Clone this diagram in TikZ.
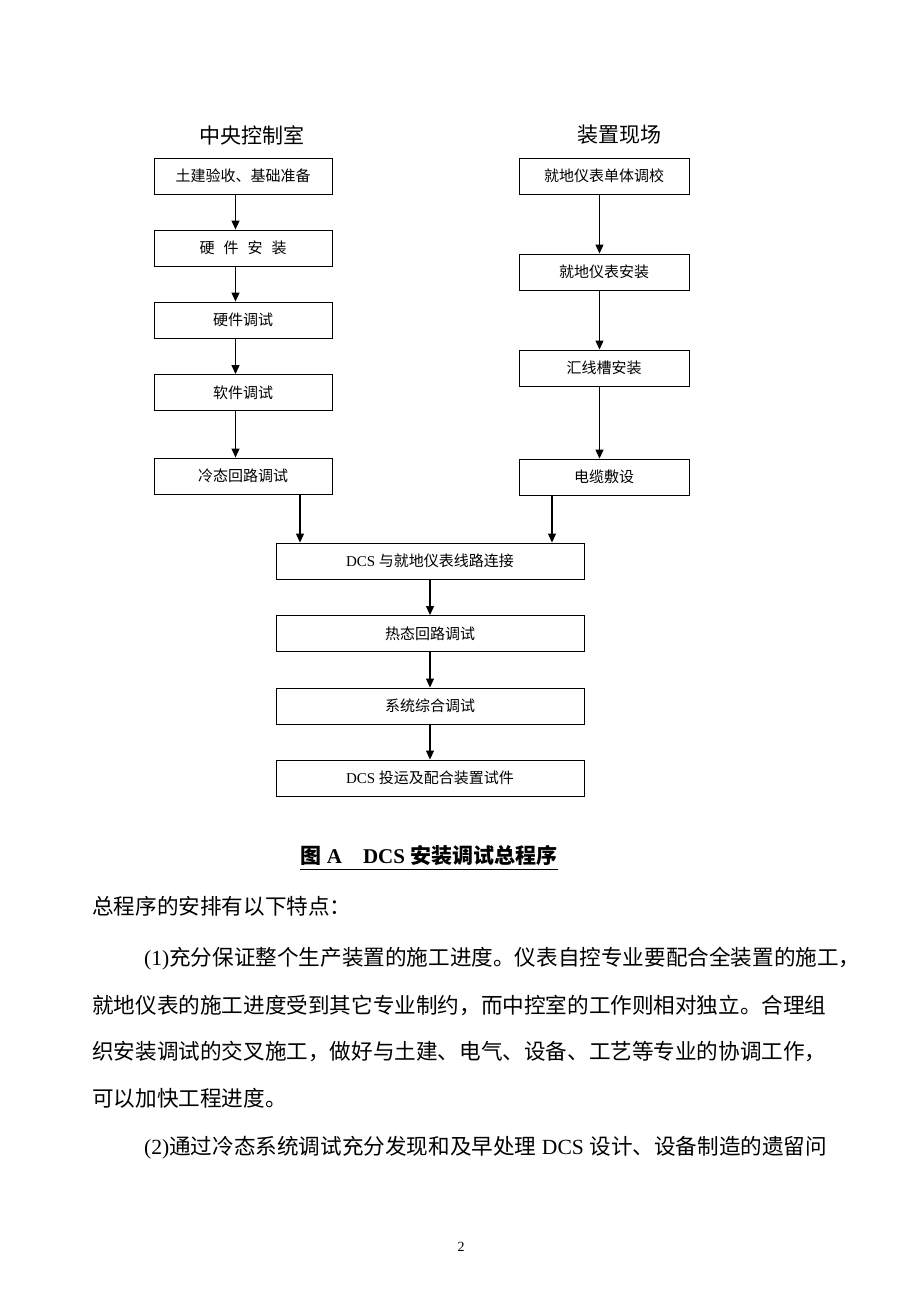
\documentclass[tikz,border=0pt]{standalone}
\usepackage{fontspec}
\setmainfont{Liberation Serif}
\newfontfamily\cjk{Noto Sans CJK SC}
\usetikzlibrary{arrows.meta}

\begin{document}
\begin{tikzpicture}[x=1pt,y=-1pt]

\useasboundingbox[fill=white] (0,0) rectangle (920,1299);

\tikzstyle{procbox}=[draw,shape=rectangle,line width=0.9pt,minimum height=36pt,inner sep=0pt,anchor=center,font=\fontsize{15}{18}\selectfont\cjk]
\tikzstyle{flow}=[-{Triangle[length=9pt,width=8pt]},line width=1.1pt]
\tikzstyle{heading}=[font=\fontsize{21}{25}\selectfont\cjk]
\tikzstyle{bodyline}=[anchor=west,inner sep=0pt,font=\fontsize{21.6}{26}\selectfont]

% Column headings
\node[heading] (hl) at (252,135) {中央控制室};
\node[heading] (hr) at (619,135) {装置现场};

% Steps in the central control room
\foreach \y/\txt [count=\i] in {176/土建验收、基础准备,248/{硬\hspace{9pt}件\hspace{9pt}安\hspace{9pt}装},320/硬件调试,392.5/软件调试,476/冷态回路调试}
  \node[procbox,minimum width=178pt] (l\i) at (243,\y) {\txt};

% Steps on site
\foreach \y/\txt [count=\i] in {176/就地仪表单体调校,272/就地仪表安装,368/汇线槽安装,477/电缆敷设}
  \node[procbox,minimum width=170pt] (r\i) at (604,\y) {\txt};

% Common steps
\node[procbox,minimum width=308pt,font=\fontsize{15}{18}\selectfont] (c1) at (430,561) {DCS {\cjk 与就地仪表线路连接}};
\node[procbox,minimum width=308pt] (c2) at (430,633.5) {热态回路调试};
\node[procbox,minimum width=308pt] (c3) at (430,706) {系统综合调试};
\node[procbox,minimum width=308pt,font=\fontsize{15}{18}\selectfont] (c4) at (430,778) {DCS {\cjk 投运及配合装置试件}};

% Arrows between the steps
\foreach \a/\b in {1/2,2/3,3/4,4/5}
  \draw[flow] ([xshift=-7.5pt]l\a.south) -- ([xshift=-7.5pt]l\b.north);
\foreach \a/\b in {1/2,2/3,3/4}
  \draw[flow] ([xshift=-4.5pt]r\a.south) -- ([xshift=-4.5pt]r\b.north);
\foreach \a/\b in {1/2,2/3,3/4}
  \draw[flow] (c\a) -- (c\b);

% Both branches join
\coordinate (ml) at ([xshift=57pt]l5.south);
\coordinate (mr) at ([xshift=-52pt]r4.south);
\draw[flow] (ml) -- (ml |- c1.north);
\draw[flow] (mr) -- (mr |- c1.north);

% Caption
\node[inner sep=0pt,font=\fontsize{21}{25}\selectfont\bfseries] (cap) at (429,855) {{\cjk 图} A{\cjk 　}DCS {\cjk 安装调试总程序}};
\draw[line width=1.2pt] ([yshift=-4.5pt]cap.south west) -- ([yshift=-4.5pt]cap.south east);

% Text below the figure
\node[bodyline] (t1) at (92,906) {{\cjk 总程序的安排有以下特点：}};
\node[bodyline] (t2) at (144,959) {(1){\cjk 充分保证整个生产装置的施工进度。仪表自控专业要配合全装置的施工，}};
\node[bodyline] (t3) at (92,1005) {{\cjk 就地仪表的施工进度受到其它专业制约，而中控室的工作则相对独立。合理组}};
\node[bodyline] (t4) at (92,1051) {{\cjk 织安装调试的交叉施工，做好与土建、电气、设备、工艺等专业的协调工作，}};
\node[bodyline] (t5) at (92,1098) {{\cjk 可以加快工程进度。}};
\node[bodyline] (t6) at (144,1148) {(2){\cjk 通过冷态系统调试充分发现和及早处理} DCS {\cjk 设计、设备制造的遗留问}};

% Page number
\node[font=\fontsize{14}{16}\selectfont] (pg) at (461,1247) {2};

\end{tikzpicture}
\end{document}
